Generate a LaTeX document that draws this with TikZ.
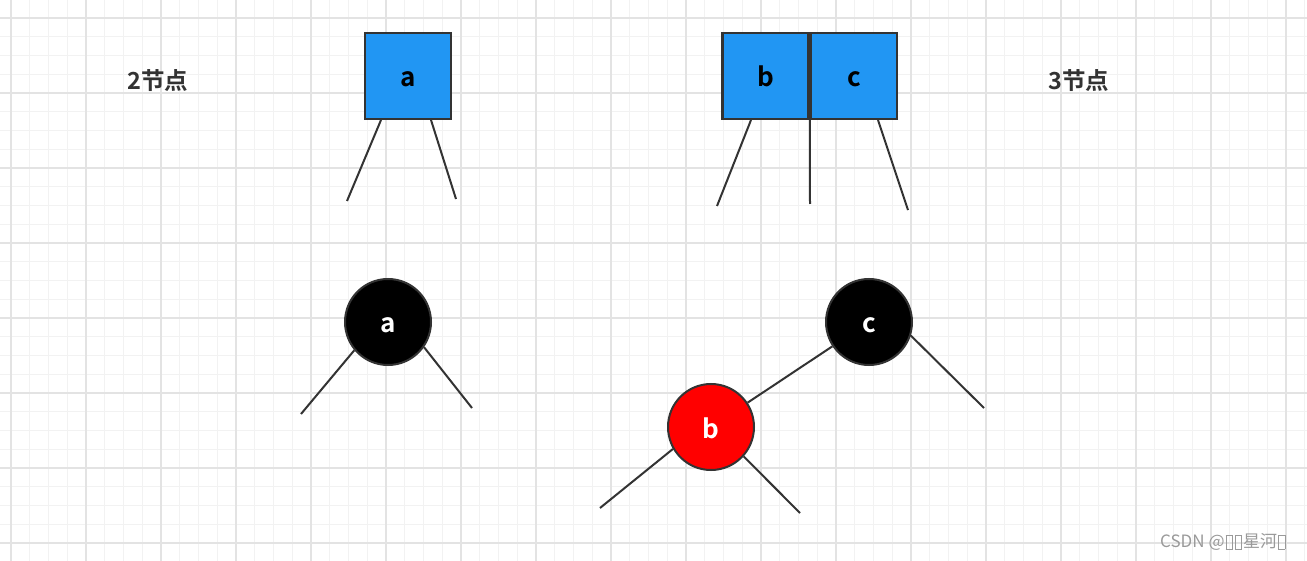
\documentclass[tikz,border=0pt]{standalone}
\usepackage{fontspec}
\setmainfont{Noto Sans CJK SC}
\newfontfamily\cjkb{Noto Sans CJK SC Bold}
\definecolor{gridminor}{HTML}{F2F2F2}
\definecolor{gridmajor}{HTML}{E3E3E3}
\definecolor{strk}{HTML}{333333}
\definecolor{boxblue}{HTML}{2196F3}
\definecolor{wm}{HTML}{9A9A9A}
\newcommand\mytofu{\kern1pt{\color{wm}\fboxsep=0pt\fboxrule=0.6pt\fbox{\rule[-1pt]{0pt}{13pt}\hspace{6pt}}}\kern1pt}
\begin{document}
\begin{tikzpicture}[x=1pt,y=-1pt,
  sq/.style={draw=strk,line width=2.5pt,fill=boxblue,minimum width=86pt,minimum height=86pt,inner sep=0pt,text height=22pt,text depth=0pt,font=\cjkb\fontsize{26}{26}\selectfont,text=black},
  rb/.style={circle,draw=strk,line width=2pt,minimum size=86pt,inner sep=0pt,text height=22pt,text depth=0pt,font=\cjkb\fontsize{26}{26}\selectfont,text=white},
  edge/.style={draw=strk,line width=2pt},
  title/.style={font=\cjkb\fontsize{23.5}{23.5}\selectfont,text=strk}]
\useasboundingbox (0,0) rectangle (1307,561);
\fill[white] (0,0) rectangle (1307,561);
% grid
\foreach \i in {-1,...,70} {
  \draw[gridminor,line width=1pt] ({11+\i*18.75},0) -- ({11+\i*18.75},561);
}
\foreach \j in {0,...,30} {
  \draw[gridminor,line width=1pt] (0,{-0.75+\j*18.75}) -- (1307,{-0.75+\j*18.75});
}
\foreach \i in {0,...,17} {
  \draw[gridmajor,line width=1.2pt] ({11+\i*75},0) -- ({11+\i*75},561);
}
\foreach \j in {0,...,7} {
  \draw[gridmajor,line width=1.2pt] (0,{18+\j*75}) -- (1307,{18+\j*75});
}
% titles
\node[title] (t2) at (158,81) {2节点};
\node[title] (t3) at (1079,81) {3节点};
% 2-node box
\node[sq] (a1) at (408,76) {a};
\coordinate (a1l) at (381,120);
\coordinate (a1r) at (431,120);
\coordinate (a1le) at (347,201);
\coordinate (a1re) at (456,199);
\draw[edge] (a1l) -- (a1le);
\draw[edge] (a1r) -- (a1re);
% 3-node boxes
\node[sq] (b1) at (765.5,76) {b};
\node[sq] (c1) at (854,76) {c};
\coordinate (b1l) at (751,120);
\coordinate (c1r) at (878,120);
\coordinate (b1le) at (717,206);
\coordinate (mide) at (810,204);
\coordinate (c1re) at (908,210);
\draw[edge] (b1l) -- (b1le);
\draw[edge] (b1.south east) -- (mide);
\draw[edge] (c1r) -- (c1re);
% red-black tree for 2-node
\node[rb,fill=black] (a2) at (388,322) {a};
\coordinate (a2le) at (301,414);
\coordinate (a2re) at (472,408);
\draw[edge] (a2.220) -- (a2le);
\draw[edge] (a2.-35) -- (a2re);
% red-black tree for 3-node
\node[rb,fill=black] (c2) at (869,322) {c};
\node[rb,fill=red] (b2) at (711,427) {b};
\coordinate (c2re) at (984,408);
\coordinate (b2le) at (600,508);
\coordinate (b2re) at (800,513);
\draw[edge] (c2) -- (b2);
\draw[edge] (c2.-18) -- (c2re);
\draw[edge] (b2.210) -- (b2le);
\draw[edge] (b2.-42) -- (b2re);
% watermark
\node[anchor=west,text=wm,font=\fontsize{17}{17}\selectfont,inner sep=0pt] (wmk) at (1160,542) {CSDN @\mytofu\mytofu{}星河\mytofu};
\end{tikzpicture}
\end{document}
